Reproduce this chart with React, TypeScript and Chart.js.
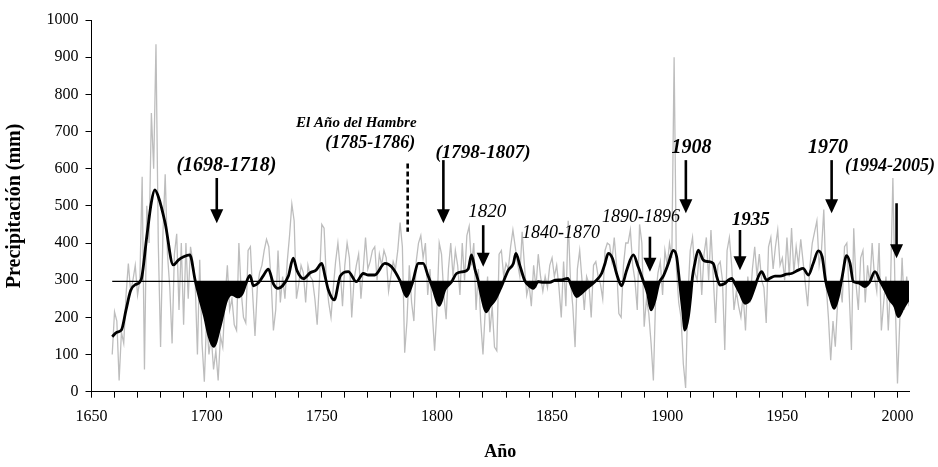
import React, { useEffect, useRef } from 'react';
import { Chart, registerables } from 'chart.js';

Chart.register(...registerables);

// ---------------- DATA ----------------
const START_YEAR = 1659;

// Annual precipitation (mm), 1659 .. 2005
const annualPrecip = [
  100, 215, 190, 30, 160, 130, 260, 345, 270, 300,
  340, 260, 300, 578, 60, 500, 400, 750, 600, 935,
  400, 120, 420, 585, 370, 280, 130, 370, 425, 220,
  400, 180, 400, 250, 390, 350, 300, 100, 355, 130,
  27, 200, 100, 150, 60, 110, 30, 150, 120, 250,
  340, 220, 250, 180, 165, 400, 270, 200, 185, 380,
  390, 260, 150, 280, 320, 340, 380, 410, 390, 300,
  165, 220, 380, 240, 310, 250, 350, 420, 505, 460,
  250, 290, 340, 320, 240, 340, 310, 300, 250, 180,
  300, 450, 440, 300, 240, 200, 280, 350, 400, 330,
  230, 340, 400, 360, 200, 300, 340, 370, 250, 330,
  415, 330, 350, 380, 390, 300, 370, 340, 380, 360,
  270, 310, 350, 330, 380, 455, 390, 105, 190, 340,
  240, 190, 350, 400, 420, 360, 400, 260, 330, 210,
  110, 220, 400, 370, 260, 195, 330, 400, 310, 380,
  340, 260, 400, 300, 420, 445, 340, 400, 220, 330,
  190, 100, 220, 310, 160, 230, 120, 110, 370, 380,
  310, 345, 330, 390, 435, 390, 345, 310, 430, 340,
  260, 290, 230, 340, 280, 370, 310, 270, 310, 280,
  340, 360, 310, 340, 280, 200, 350, 230, 460, 300,
  230, 120, 330, 380, 300, 220, 310, 290, 200, 340,
  350, 310, 290, 250, 380, 400, 395, 350, 415, 340,
  210, 200, 340, 400, 400, 435, 340, 300, 220, 450,
  400, 175, 250, 210, 130, 30, 260, 320, 350, 260,
  380, 340, 400, 360, 900, 330, 240, 200, 75, 10,
  260, 380, 415, 320, 300, 380, 260, 370, 415, 300,
  435, 310, 185, 340, 350, 300, 112, 380, 415, 340,
  220, 270, 230, 200, 260, 165, 310, 240, 330, 390,
  310, 370, 300, 280, 185, 390, 415, 330, 390, 435,
  340, 360, 300, 415, 310, 440, 320, 390, 340, 410,
  350, 290, 230, 340, 400, 430, 460, 340, 380, 490,
  290, 200, 85, 190, 121, 240, 290, 240, 390, 400,
  270, 112, 440, 290, 220, 360, 380, 240, 340, 290,
  400, 310, 270, 400, 165, 240, 310, 165, 290, 575,
  250, 22, 190, 360, 220, 310, 230,
];

// Smoothed curve (read at its turning points)
const smoothYears = [
  1659, 1661, 1663, 1665, 1667, 1669, 1671.5, 1674, 1676, 1677.5,
  1679, 1682, 1685.5, 1687.7, 1690, 1692.7, 1695, 1697, 1699, 1701,
  1703, 1705.8, 1708.7, 1711, 1713.5, 1715.5, 1717, 1718.8, 1720.3, 1722.5,
  1724.5, 1726.8, 1729, 1731, 1733, 1735.5, 1737.6, 1739.3, 1742, 1745,
  1747.5, 1750, 1751.4, 1752.8, 1755.4, 1758, 1761.5, 1765, 1768, 1770.2,
  1773, 1777.4, 1780.3, 1784, 1786.8, 1789.3, 1792, 1794, 1796.2, 1798.4,
  1801, 1803.5, 1806.4, 1808.5, 1811.5, 1813.6, 1815, 1816.5, 1818, 1819.4,
  1821.3, 1823, 1825.2, 1827.4, 1829, 1831, 1833.2, 1834.3, 1836, 1838.2,
  1840.4, 1841.8, 1844, 1846.2, 1849, 1851.3, 1854.2, 1856.8, 1858.5, 1860.7,
  1862.8, 1865, 1867, 1869.3, 1871.5, 1873, 1874.4, 1876.2, 1878, 1880.2,
  1882.4, 1885.3, 1887.4, 1889.6, 1891.5, 1893, 1894.7, 1896.4, 1898.3, 1900.5,
  1902.6, 1904.1, 1905.3, 1906.7, 1907.7, 1909.2, 1910.2, 1911, 1912, 1913.5,
  1915.7, 1917.8, 1920, 1921.5, 1922.9, 1925, 1926.5, 1928, 1929.4, 1931.6,
  1933.8, 1935.9, 1938.1, 1939.6, 1941, 1943.2, 1944.6, 1946.8, 1949, 1951.8,
  1954, 1956.9, 1959, 1961.3, 1963.4, 1965.6, 1967.3, 1968.8, 1970.7, 1972.5,
  1974.3, 1976, 1977.9, 1979.4, 1980.8, 1983, 1985.9, 1988, 1990.2, 1992.4,
  1994.5, 1996.7, 1998.9, 2000.3, 2002.5, 2005,
];
const smoothValues = [
  148, 160, 166, 220, 272, 288, 300, 417, 510, 543,
  525, 453, 341, 354, 363, 368, 300, 250, 205, 150,
  122, 175, 247, 262, 255, 265, 290, 313, 285, 293,
  311, 330, 290, 278, 285, 311, 359, 325, 304, 320,
  327, 345, 311, 275, 247, 311, 323, 296, 318, 314,
  314, 345, 336, 298, 256, 292, 345, 345, 311, 275,
  232, 275, 296, 318, 323, 330, 368, 330, 296, 256,
  215, 230, 247, 275, 298, 327, 345, 372, 340, 298,
  283, 278, 296, 294, 294, 300, 301, 305, 283, 256,
  265, 278, 287, 300, 318, 345, 372, 359, 318, 285,
  327, 368, 336, 298, 264, 220, 247, 292, 311, 345,
  380, 363, 298, 220, 166, 202, 256, 310, 345, 381,
  354, 350, 345, 310, 287, 291, 300, 305, 291, 265,
  238, 247, 283, 310, 323, 300, 305, 311, 311, 316,
  318, 327, 332, 314, 345, 379, 363, 298, 256, 224,
  256, 310, 366, 345, 296, 293, 283, 296, 323, 298,
  274, 247, 229, 202, 225, 250,
];

const MEAN_PRECIP = 297;

// Dry periods shaded in black (year ranges along the smoothed curve)
const dryStart = [1692.7, 1780.3, 1796.2, 1816.5, 1836, 1856.8, 1887.4, 1904.1, 1928, 1967.3, 1979.4, 1990.2];
const dryEnd = [1718.8, 1792, 1808.5, 1831, 1854.2, 1871.5, 1898.3, 1911, 1939.6, 1977.9, 1990.2, 2005];

const X_MIN = 1650;
const X_MAX = 2005;
const X_TICK_STEP = 10;
const X_LABEL_EVERY = 50;
const Y_MIN = 0;
const Y_MAX = 1000;
const Y_TICK_STEP = 100;

const X_TITLE = 'Año';
const Y_TITLE = 'Precipitación (mm)';

// Text annotations (data coordinates)
const noteTexts = ['(1698-1718)', 'El Año del Hambre', '(1785-1786)', '(1798-1807)', '1820', '1840-1870', '1890-1896', '1908', '1935', '1970', '(1994-2005)'];
const noteYears = [1708.6, 1765, 1771, 1820, 1821.9, 1853.9, 1888.6, 1910.6, 1936.3, 1969.8, 1996.7];
const noteValues = [607, 723, 668, 641, 484, 426, 469, 655, 462, 655, 605];
const noteBold = [true, true, true, true, false, false, false, true, true, true, true];
const noteSize = [20, 15, 18, 19, 19, 18, 18, 20, 19, 20, 18];

// Arrows (data coordinates)
const arrowYears = [1704.4, 1787.3, 1802.8, 1820.1, 1892.5, 1908.1, 1931.6, 1971.4, 1999.6];
const arrowFrom = [575, 614, 623, 448, 417, 623, 435, 623, 507];
const arrowTo = [453, 430, 453, 336, 323, 480, 327, 480, 359];
const arrowDashed = [false, true, false, false, false, false, false, false, false];

const FONT = '"Liberation Serif", "Times New Roman", serif';

const annotationPlugin = {
  id: 'annotations',
  afterDatasetsDraw(chart: any) {
    const ctx = chart.ctx;
    const xs = chart.scales.x;
    const ys = chart.scales.y;
    ctx.save();
    for (let i = 0; i < arrowYears.length; i++) {
      const x = xs.getPixelForValue(arrowYears[i]);
      const y0 = ys.getPixelForValue(arrowFrom[i]);
      const y1 = ys.getPixelForValue(arrowTo[i]);
      ctx.strokeStyle = '#000';
      ctx.fillStyle = '#000';
      ctx.lineWidth = 2.6;
      if (arrowDashed[i]) {
        ctx.setLineDash([5, 3]);
        ctx.beginPath();
        ctx.moveTo(x, y0);
        ctx.lineTo(x, y1);
        ctx.stroke();
        ctx.setLineDash([]);
      } else {
        const headH = 14;
        const headW = 13;
        ctx.beginPath();
        ctx.moveTo(x, y0);
        ctx.lineTo(x, y1 - headH + 1);
        ctx.stroke();
        ctx.beginPath();
        ctx.moveTo(x - headW / 2, y1 - headH);
        ctx.lineTo(x + headW / 2, y1 - headH);
        ctx.lineTo(x, y1);
        ctx.closePath();
        ctx.fill();
      }
    }
    ctx.textAlign = 'center';
    ctx.textBaseline = 'middle';
    ctx.fillStyle = '#000';
    for (let i = 0; i < noteTexts.length; i++) {
      ctx.font = `italic ${noteBold[i] ? 'bold ' : ''}${noteSize[i]}px ${FONT}`;
      ctx.fillText(noteTexts[i], xs.getPixelForValue(noteYears[i]), ys.getPixelForValue(noteValues[i]));
    }
    ctx.restore();
  },
};

export default function App() {
  const canvasRef = useRef<HTMLCanvasElement | null>(null);

  useEffect(() => {
    if (!canvasRef.current) return;
    const annualData = annualPrecip.map((v, i) => ({ x: START_YEAR + i, y: v }));
    const smoothData = smoothYears.map((yr, i) => ({ x: yr, y: smoothValues[i] }));
    const inDry = (yr: number) => dryStart.some((s, k) => yr >= s && yr <= dryEnd[k]);
    const dryData = smoothYears.map((yr, i) => ({ x: yr, y: inDry(yr) ? smoothValues[i] : null }));
    const meanData = [
      { x: START_YEAR, y: MEAN_PRECIP },
      { x: X_MAX, y: MEAN_PRECIP },
    ];

    const chart = new Chart(canvasRef.current, {
      type: 'line',
      data: {
        datasets: [
          {
            label: 'Anual',
            data: annualData,
            borderColor: '#bdbdbd',
            borderWidth: 1.3,
            pointRadius: 0,
            tension: 0,
            fill: false,
            order: 4,
          },
          {
            label: 'Sequía',
            data: dryData,
            borderColor: 'rgba(0,0,0,0)',
            borderWidth: 0,
            pointRadius: 0,
            spanGaps: false,
            cubicInterpolationMode: 'monotone',
            fill: { target: { value: MEAN_PRECIP }, above: 'rgba(0,0,0,0)', below: '#000' },
            order: 3,
          },
          {
            label: 'Media',
            data: meanData,
            borderColor: '#000',
            borderWidth: 1.3,
            pointRadius: 0,
            fill: false,
            order: 2,
          },
          {
            label: 'Suavizado',
            data: smoothData,
            borderColor: '#000',
            borderWidth: 2.8,
            pointRadius: 0,
            cubicInterpolationMode: 'monotone',
            fill: false,
            order: 1,
          },
        ] as any,
      },
      options: {
        animation: false,
        responsive: false,
        devicePixelRatio: 1,
        layout: { padding: { left: 0, right: 29, top: 20, bottom: 0 } },
        plugins: {
          legend: { display: false },
          tooltip: { enabled: false },
        },
        scales: {
          x: {
            type: 'linear',
            min: X_MIN,
            max: X_MAX,
            afterFit: (scale: any) => {
              scale.height = 75.3;
            },
            ticks: {
              stepSize: X_TICK_STEP,
              autoSkip: false,
              includeBounds: false,
              maxRotation: 0,
              padding: 9,
              color: '#000',
              font: { family: FONT, size: 16 },
              callback: (v: any) => (Number(v) % X_LABEL_EVERY === 0 ? String(v) : ''),
            },
            grid: { drawOnChartArea: false, drawTicks: true, tickLength: 6, color: '#000' },
            border: { color: '#000', width: 1 },
            title: {
              display: true,
              text: X_TITLE,
              color: '#000',
              font: { family: FONT, size: 18, weight: 'bold' },
              padding: { top: 0, bottom: 4 },
            },
          },
          y: {
            min: Y_MIN,
            max: Y_MAX,
            afterFit: (scale: any) => {
              scale.width = 91.5;
            },
            ticks: {
              stepSize: Y_TICK_STEP,
              padding: 7,
              color: '#000',
              font: { family: FONT, size: 16 },
              callback: (v: any) => String(v),
            },
            grid: { drawOnChartArea: false, drawTicks: true, tickLength: 6, color: '#000' },
            border: { color: '#000', width: 1 },
            title: {
              display: true,
              text: Y_TITLE,
              color: '#000',
              font: { family: FONT, size: 20, weight: 'bold' },
              padding: { top: 3, bottom: 0 },
            },
          },
        },
      } as any,
      plugins: [annotationPlugin],
    });
    return () => chart.destroy();
  }, []);

  return (
    <div style={{ position: 'absolute', left: 0, top: 0, width: 938, height: 467, background: '#fff' }}>
      <canvas ref={canvasRef} width={938} height={467} style={{ width: 938, height: 467 }} />
    </div>
  );
}
